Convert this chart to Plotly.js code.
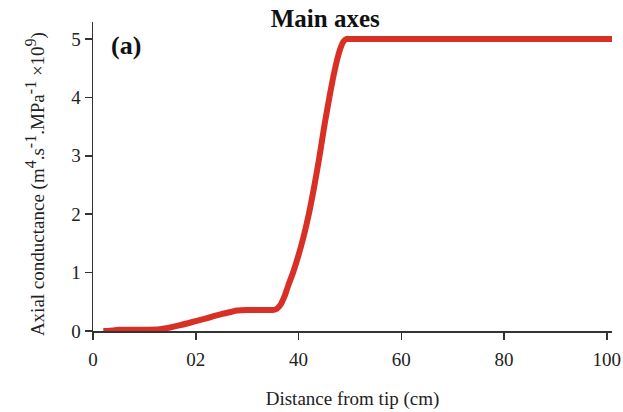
<!DOCTYPE html>
<html>
<head>
<meta charset="utf-8">
<script src="https://cdn.plot.ly/plotly-3.0.1.min.js"></script>
<style>html,body{margin:0;padding:0;background:#fff;}#chart{width:623px;height:412px;}</style>
</head>
<body>
<div id="chart"></div>
<script>
// Distance from tip (cm)
const distance = [2, 3, 4, 5, 8, 10, 13, 15, 17, 20, 23, 25, 27, 28, 30, 33, 35, 35.8, 36.5, 37.3, 38, 39, 40, 41, 42, 43, 44, 45, 46, 47, 48, 48.7, 49.3, 50, 60, 80, 101];
// Axial conductance (x10^9)
const conductance = [0, 0, 0.01, 0.02, 0.02, 0.02, 0.03, 0.06, 0.1, 0.17, 0.24, 0.29, 0.33, 0.35, 0.36, 0.36, 0.36, 0.38, 0.45, 0.6, 0.78, 1.02, 1.3, 1.62, 2.0, 2.45, 2.95, 3.5, 4.0, 4.45, 4.8, 4.95, 5.0, 5.0, 5.0, 5.0, 5.0];
const xTickVals = [0, 20, 40, 60, 80, 100];
const xTickText = ["0", "02", "40", "60", "80", "100"];
const yTickVals = [0, 1, 2, 3, 4, 5];

const serif = "Liberation Serif, Times New Roman, serif";
const sup = s => '<sup><span style="font-size:16px">' + s + '</span></sup>';
const yTitle = 'Axial conductance (m' + sup('4') + '.s' + sup('-1') + '.MPa' + sup('-1') + ' ×10' + sup('9') + ')';

const trace = {
  x: distance, y: conductance, type: 'scatter', mode: 'lines',
  line: {color: '#d93025', width: 6, shape: 'spline', smoothing: 0.6},
  cliponaxis: false, hoverinfo: 'skip'
};

const layout = {
  width: 623, height: 412,
  margin: {l: 93, r: 11, t: 22, b: 81},
  paper_bgcolor: '#fff', plot_bgcolor: '#fff',
  showlegend: false,
  font: {family: serif, color: '#222', size: 19},
  title: {text: '<b>Main axes</b>', x: 0.522, xanchor: 'center', y: 0.955, yanchor: 'middle', font: {family: serif, size: 25, color: '#111'}},
  xaxis: {
    range: [0, 101], showgrid: false, zeroline: false,
    showline: true, linecolor: '#333', linewidth: 1.5,
    ticks: 'outside', ticklen: 7, tickwidth: 1.5, tickcolor: '#333',
    ticklabelstandoff: 4,
    tickvals: xTickVals, ticktext: xTickText,
    tickfont: {family: serif, size: 19, color: '#222'},
    title: {text: 'Distance from tip (cm)', font: {family: serif, size: 19, color: '#222'}, standoff: 22}
  },
  yaxis: {
    range: [0, 5.29], showgrid: false, zeroline: false,
    showline: true, linecolor: '#333', linewidth: 1.5,
    ticks: 'outside', ticklen: 7, tickwidth: 1.5, tickcolor: '#333',
    tickvals: yTickVals,
    tickfont: {family: serif, size: 19, color: '#222'}
  },
  annotations: [{
    text: '<b>(a)</b>', xref: 'paper', yref: 'paper', x: 0.03, y: 0.925,
    xanchor: 'left', yanchor: 'middle', showarrow: false,
    font: {family: serif, size: 26, color: '#111'}
  }, {
    text: yTitle, xref: 'paper', yref: 'paper', x: -0.112, y: 0.475,
    xanchor: 'center', yanchor: 'middle', textangle: -90, showarrow: false,
    font: {family: serif, size: 19, color: '#222'}
  }]
};

Plotly.newPlot('chart', [trace], layout, {displayModeBar: false, staticPlot: true});
</script>
</body>
</html>
